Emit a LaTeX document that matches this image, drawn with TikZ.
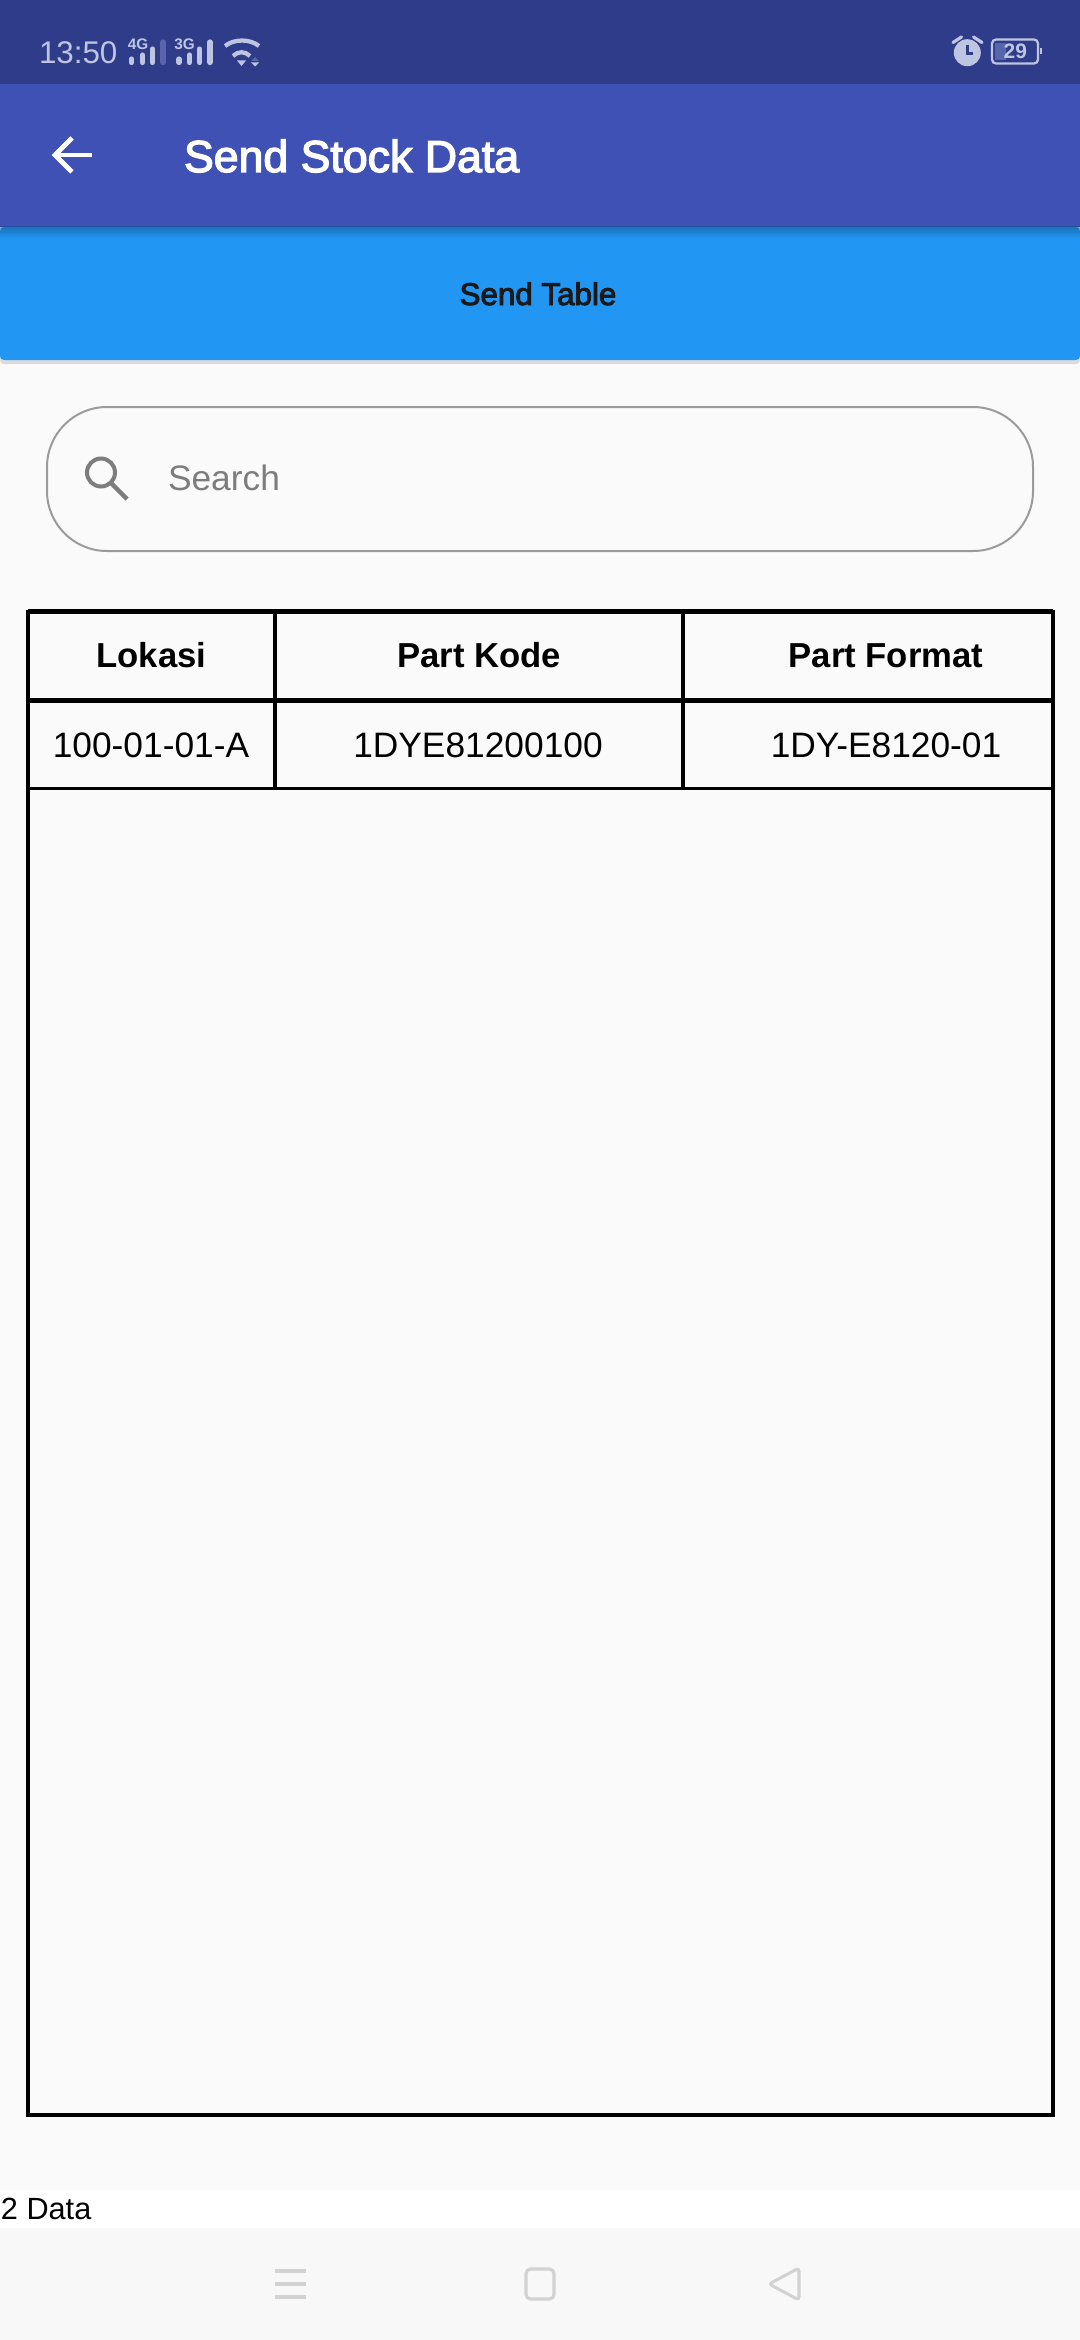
\documentclass[tikz,border=0pt]{standalone}
\usepackage{fontspec}
\setmainfont{Liberation Sans}
\newfontfamily\mediumfont[FakeBold=3]{Liberation Sans}
\usetikzlibrary{positioning,shadings}
\definecolor{statusblue}{RGB}{47,60,137}
\definecolor{barblue}{RGB}{63,81,181}
\definecolor{buttonblue}{RGB}{33,150,243}
\definecolor{pagegray}{RGB}{250,250,250}
\definecolor{navgray}{RGB}{248,248,248}
\definecolor{iconpale}{RGB}{190,197,225}
\definecolor{icondim}{RGB}{88,101,168}
\definecolor{navicon}{RGB}{210,210,210}
\definecolor{hintgray}{RGB}{125,125,125}
\definecolor{rimgray}{RGB}{155,155,155}

\begin{document}
\begin{tikzpicture} [
	x = 0.75pt, y = -0.75pt,
	every node/.style = {inner sep=0pt, outer sep=0pt},
	statustext/.style = {text=iconpale, font=\fontsize{23.5}{24}\selectfont, anchor=base west},
	tinytext/.style = {text=iconpale, font=\bfseries\fontsize{11.5}{12}\selectfont, anchor=base},
	headtext/.style = {font=\bfseries\fontsize{26}{28}\selectfont, anchor=base},
	celltext/.style = {font=\fontsize{26.5}{28}\selectfont, anchor=base},
	rule/.style = {line width=3pt, black},
	heavyrule/.style = {line width=3.7pt, black},
	thinrule/.style = {line width=2.2pt, black},
	bar/.style = {iconpale, line width=3.9pt, line cap=round},
	navline/.style = {navicon, line width=2.3pt}
]
\useasboundingbox (0,0) rectangle (1080,2340);
\fill [pagegray] (0,0) rectangle (1080,2340);
\fill [statusblue] (0,0) rectangle (1080,84);
\fill [barblue] (0,84) rectangle (1080,227);

% button
\fill [black!14, rounded corners=3pt] (0,232) rectangle (1080,364);
\fill [buttonblue, rounded corners=3pt] (0,227) rectangle (1080,360);
\shade [top color=black!45!buttonblue, bottom color=buttonblue, opacity=.5] (0,227) rectangle (1080,238);

% status bar
\node [statustext] (clock) at (39,64) {13:50};
\node [tinytext] (netfour) at (138,50) {4G};
\node [tinytext] (netthree) at (184.5,50) {3G};
\foreach \x/\top in {131.5/59, 142.5/55, 152.5/49, 179/59, 189.5/55, 199.5/49, 210/42} \draw [bar] (\x,\top) -- (\x,62.5);
\draw [bar, icondim] (163,42) -- (163,62.5);
\draw [iconpale, line width=3.2pt] (225,46) .. controls (234,38.7) and (250,38.7) .. (259,46);
\draw [iconpale, line width=3.2pt] (233,56) .. controls (238,51) and (245,51) .. (250,56);
\fill [iconpale] (237,60.5) -- (246,60.5) -- (241.5,66) -- cycle;
\fill [icondim] (251,61) -- (259,61) -- (255,57) -- cycle;
\fill [iconpale] (251,62.5) -- (259,62.5) -- (255,66.5) -- cycle;

\fill [iconpale] (967.3,52.7) circle (13.5);
\draw [statusblue, line width=2pt] (967.7,45) -- (967.7,53.3) -- (973,53.3);
\draw [iconpale, line width=2.4pt, line cap=round] (953,42.5) -- (961.5,37);
\draw [iconpale, line width=2.4pt, line cap=round] (982,42.5) -- (973.5,37);
\draw [iconpale, line width=1.7pt, rounded corners=3pt] (992,39.5) rectangle (1038,63.5);
\fill [icondim] (995,43) rectangle (1006,60);
\fill [iconpale] (1040,48) rectangle (1042,54);
\node [text=iconpale, font=\bfseries\fontsize{15.7}{16}\selectfont, anchor=base] (battery) at (1015.3,59) {29};

% app bar
\draw [white, line width=3.6pt] (56,155) -- (92,155);
\draw [white, line width=3.6pt] (72,138) -- (55,155) -- (72,172);
\node [text=white, font=\mediumfont\fontsize{33.5}{34}\selectfont, anchor=base west] (title) at (184,172) {Send Stock Data};
\node [font=\mediumfont\fontsize{23.5}{24}\selectfont, text=black!90, anchor=base] (send) at (538,305) {Send Table};

% search
\draw [rimgray, line width=1.5pt, rounded corners=45pt] (47,407) rectangle (1033,551);
\draw [hintgray, line width=3pt] (101,472.5) circle (14);
\draw [hintgray, line width=3.4pt] (111,483) -- (127,499);
\node [text=hintgray, font=\fontsize{26.5}{28}\selectfont, anchor=base west] (search) at (168,490) {Search};

% table
\draw [rule] (27.5,611.5) rectangle (1053,2114.5);
\draw [heavyrule] (27.5,611.5) -- (1053,611.5);
\draw [heavyrule] (27.5,700.5) -- (1053,700.5);
\draw [thinrule] (27.5,788.5) -- (1053,788.5);
\foreach \x in {275,682.5} \draw [rule] (\x,611) -- (\x,790);
\node [headtext] (lokasi) at (151.5,667.5) {Lokasi};
\node [headtext] (kode) at (479,667.5) {Part Kode};
\node [headtext] (format) at (886,667.5) {Part Format};
\node [celltext] (lokasival) at (151,757) {100-01-01-A};
\node [celltext] (kodeval) at (478,757) {1DYE81200100};
\node [celltext] (formatval) at (886,757) {1DY-E8120-01};

% footer
\fill [white] (0,2190) rectangle (1080,2228);
\fill [navgray] (0,2228) rectangle (1080,2340);
\node [font=\fontsize{23}{24}\selectfont, anchor=base west] (count) at (1,2219) {2 Data};

% navigation
\foreach \y in {2271,2284,2297} \draw [navline] (275,\y) -- (306,\y);
\draw [navline, rounded corners=3.5pt] (526,2269) rectangle (554,2299);
\draw [navline, rounded corners=2.5pt] (799,2268) -- (769,2284) -- (799,2300) -- cycle;
\end{tikzpicture}
\end{document}
